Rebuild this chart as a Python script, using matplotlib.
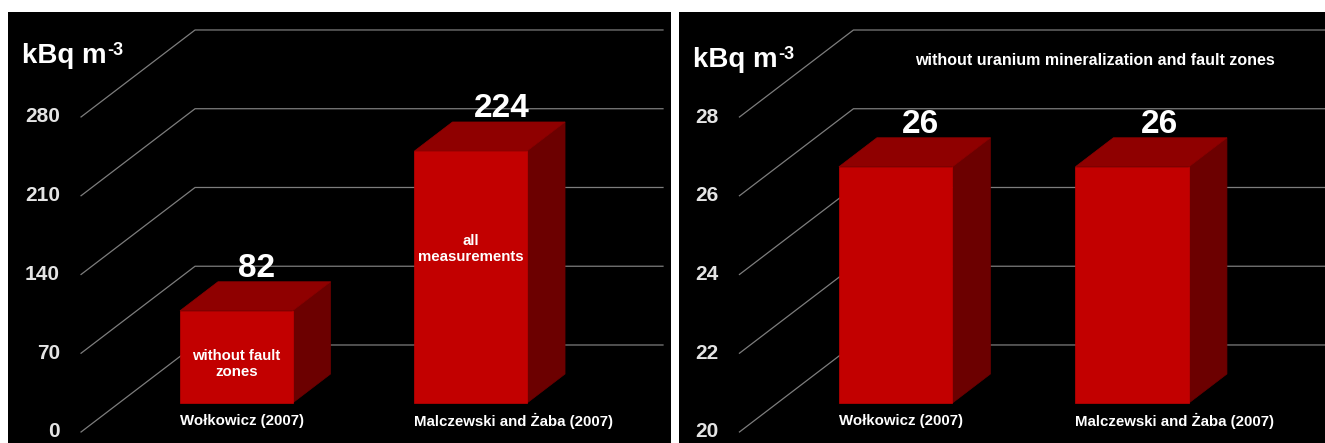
import numpy as np
import matplotlib.pyplot as plt
from matplotlib.patches import Polygon
from matplotlib.transforms import IdentityTransform

plt.rcParams['font.family'] = ['Liberation Sans', 'DejaVu Sans']
plt.rcParams['font.weight'] = 'bold'

# data
categories = ['Wołkowicz (2007)', 'Malczewski and Żaba (2007)']
all_values = [82, 224]
all_ticks = [0, 70, 140, 210, 280]
all_notes = ['without fault\nzones', 'all\nmeasurements']
all_note_pos = [0.42, 0.61]          # fraction of bar height
filtered_values = [26, 26]
filtered_ticks = [20, 22, 24, 26, 28]
filtered_title = 'without uranium mineralization and fault zones'
unit, unit_exp = 'kBq m', '-3'

W, H = 1325, 443
DX, DY = 114, 87          # depth vector of the fake 3d box, pixels
BAR_W = 0.48

FRONT = '#c20000'
TOP = '#8f0000'
SIDE = '#6c0000'
GRID = '#7d7d7d'
TICK = '#e4e4e4'

fig = plt.figure(figsize=(W / 100, H / 100), dpi=100, facecolor='white')
ident = IdentityTransform()


def panel(left_px, right_px, xlim, ylim):
    ax = fig.add_axes([left_px / W, 0, (right_px - left_px) / W, 431 / H])
    ax.set_facecolor('black')
    ax.set_xlim(xlim)
    ax.set_ylim(ylim)
    ax.set_xticks([])
    ax.set_yticks([])
    for s in ax.spines.values():
        s.set_visible(False)
    return ax


def project(ax, x, y, depth):
    px, py = ax.transData.transform((x, y))
    return (px + depth * DX, py + depth * DY)


def draw_chart(ax, values, ticks, base, end_margin, label_nudge):
    right = ax.bbox.x1 - end_margin

    # perspective grid: slant from the tick to the back wall, then across
    for t in ticks:
        x0, y0 = project(ax, -0.5, t, 0)
        x1, y1 = project(ax, -0.5, t, 1)
        ax.plot([x0, x1, right], [y0, y1, y1], color=GRID, lw=0.9,
                transform=ident, zorder=1)
        ax.annotate(str(t), xy=(-0.5, t), xytext=(-21, 0),
                    textcoords='offset pixels', ha='right', va='center',
                    color=TICK, fontsize=15, fontweight='bold')

    d0, d1 = 1 / 3, 2 / 3
    for i, v in enumerate(values):
        xl, xr = i - BAR_W / 2, i + BAR_W / 2
        front = [project(ax, xl, base, d0), project(ax, xr, base, d0),
                 project(ax, xr, v, d0), project(ax, xl, v, d0)]
        top = [project(ax, xl, v, d0), project(ax, xr, v, d0),
               project(ax, xr, v, d1), project(ax, xl, v, d1)]
        side = [project(ax, xr, base, d0), project(ax, xr, base, d1),
                project(ax, xr, v, d1), project(ax, xr, v, d0)]
        for verts, c in [(side, SIDE), (top, TOP), (front, FRONT)]:
            ax.add_patch(Polygon(verts, closed=True, facecolor=c, edgecolor=c,
                                 lw=0.5, transform=ident, zorder=2))

        ax.annotate(str(v), xy=(i, v),
                    xytext=(DX / 2 + label_nudge[i], DY / 2 + 28),
                    textcoords='offset pixels', ha='center', va='center',
                    color='white', fontsize=24, fontweight='bold', zorder=3)
        ax.annotate(categories[i], xy=(xl, base), xytext=(DX / 3, DY / 3 - 18),
                    textcoords='offset pixels', ha='left', va='center',
                    color='white', fontsize=10.8, fontweight='bold', zorder=3)


def unit_label(ax, dy):
    t = ax.annotate(unit, xy=(0, 1), xycoords='axes fraction', xytext=(14, dy),
                    textcoords='offset pixels', ha='left', va='center',
                    color='white', fontsize=20, fontweight='bold')
    bb = t.get_window_extent(fig.canvas.get_renderer())
    ax.text(bb.x1 + 1, bb.y1 + 1, unit_exp, transform=ident, ha='left',
            va='top', color='white', fontsize=13, fontweight='bold')


# left: all values
ax1 = panel(8, 671, (-0.8115, 2.016), (-9.78, 373.3))
draw_chart(ax1, all_values, all_ticks, 0, 8, [1, 12])
for i, (note, f) in enumerate(zip(all_notes, all_note_pos)):
    ax1.annotate(note, xy=(i, all_values[i] * f), xytext=(DX / 3, DY / 3),
                 textcoords='offset pixels', ha='center', va='center',
                 color='white', fontsize=10.8, fontweight='bold', zorder=3,
                 linespacing=1.15)
unit_label(ax1, -44)

# right: without mineralization and fault zones
ax2 = panel(679, 1325, (-0.7556, 1.976), (19.72, 30.667))
draw_chart(ax2, filtered_values, filtered_ticks, 20, 0, [6, 8])
unit_label(ax2, -48)
ax2.text(0.644, 0.8886, filtered_title, transform=ax2.transAxes,
         ha='center', va='center', color='white', fontsize=11.5,
         fontweight='bold')

fig.savefig('out.png', dpi=100, facecolor='white')
